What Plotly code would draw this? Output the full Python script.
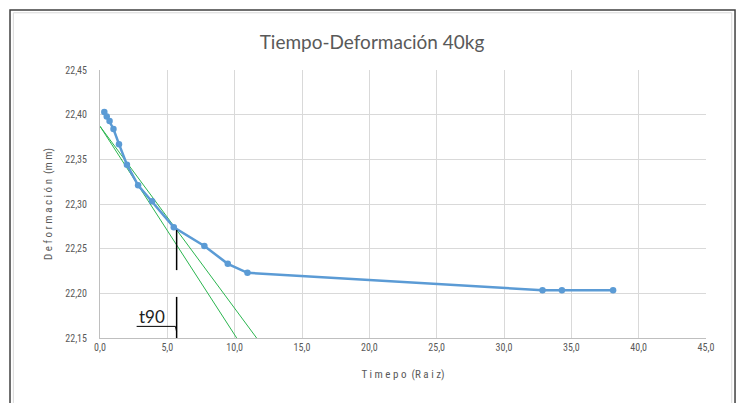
import plotly.graph_objects as go

# Square root of elapsed time vs. dial reading (40 kg load step)
raiz_t = [0.32, 0.50, 0.71, 1.00, 1.41, 2.00, 2.83, 3.87, 5.48, 7.75, 9.49, 10.95,
          32.86, 34.30, 38.10]
deformacion = [22.403, 22.398, 22.393, 22.384, 22.367, 22.344, 22.321, 22.303,
               22.274, 22.253, 22.233, 22.223, 22.2035, 22.2035, 22.2035]

# Construction lines for the t90 (Taylor) method
tang_x = [0.0, 10.15]
tang_y = [22.387, 22.15]
tang115_x = [0.0, 11.63]
tang115_y = [22.387, 22.15]

# t90 marker lines
t90_x = 5.69
t90_upper = [22.271, 22.226]
t90_lower = [22.196, 22.15]
t90_flag_x = [2.72, 5.60, 5.69]
t90_flag_y = [22.163, 22.163, 22.157]

GRAY = "#595959"
FONT = "Lato, Open Sans, sans-serif"
NARROW = "Liberation Sans Narrow, Roboto Condensed, Arial Narrow, sans-serif"

fig = go.Figure()

fig.add_trace(go.Scatter(x=tang_x, y=tang_y, mode="lines",
                         line=dict(color="#2bb54f", width=1), hoverinfo="skip"))
fig.add_trace(go.Scatter(x=tang115_x, y=tang115_y, mode="lines",
                         line=dict(color="#2bb54f", width=1), hoverinfo="skip"))

fig.add_trace(go.Scatter(x=raiz_t, y=deformacion, mode="lines+markers",
                         line=dict(color="#5b9bd5", width=2.5),
                         marker=dict(color="#5b9bd5", size=6.5, symbol="circle")))

fig.add_trace(go.Scatter(x=[t90_x, t90_x], y=t90_upper, mode="lines",
                         line=dict(color="black", width=1.5), hoverinfo="skip"))
fig.add_trace(go.Scatter(x=[t90_x, t90_x], y=t90_lower, mode="lines",
                         line=dict(color="black", width=1.5), hoverinfo="skip"))
fig.add_trace(go.Scatter(x=t90_flag_x, y=t90_flag_y, mode="lines",
                         line=dict(color="black", width=1), hoverinfo="skip"))

fig.add_annotation(x=t90_flag_x[0], y=t90_flag_y[0], text="t90", showarrow=False,
                   xanchor="left", yanchor="bottom", yshift=-3,
                   font=dict(family=FONT, size=17, color="#222222"))

# Chart frame
fig.add_shape(type="rect", xref="paper", yref="paper",
              x0=-0.1485, x1=1.0479, y0=-0.26, y1=1.2239,
              line=dict(color="#404040", width=1.5), fillcolor="rgba(0,0,0,0)")
fig.add_shape(type="rect", xref="paper", yref="paper",
              x0=-0.143, x1=1.0425, y0=-0.26, y1=1.2135,
              line=dict(color="#d9d9d9", width=1), fillcolor="rgba(0,0,0,0)")

fig.update_layout(
    width=744, height=403,
    margin=dict(l=100, r=38, t=70, b=65),
    paper_bgcolor="white", plot_bgcolor="white",
    separators=",.",
    showlegend=False,
    title=dict(text="Tiempo-Deformación 40kg", x=0.5, xref="container",
               y=1 - 42 / 403, yref="container", xanchor="center", yanchor="middle",
               font=dict(family=FONT, size=19, color=GRAY)),
    xaxis=dict(range=[0, 45], dtick=5, tickformat=".1f",
               showgrid=True, gridcolor="#d9d9d9", gridwidth=1,
               showline=True, linecolor="#bfbfbf", linewidth=1,
               zeroline=False, ticks="",
               tickfont=dict(family=NARROW, size=10, color=GRAY),
               title=dict(text="T i m e p o  (R a i z)", standoff=18,
                          font=dict(family=NARROW, size=11, color=GRAY))),
    yaxis=dict(range=[22.15, 22.45], dtick=0.05, tickformat=".2f",
               showgrid=True, gridcolor="#d9d9d9", gridwidth=1,
               showline=True, linecolor="#bfbfbf", linewidth=1,
               zeroline=False, ticks="", ticklabelstandoff=10,
               tickfont=dict(family=NARROW, size=10, color=GRAY),
               title=dict(text="D e f o r m a c i ó n  (m m)", standoff=10,
                          font=dict(family=NARROW, size=11, color=GRAY))),
)

fig.write_html("out.html")
